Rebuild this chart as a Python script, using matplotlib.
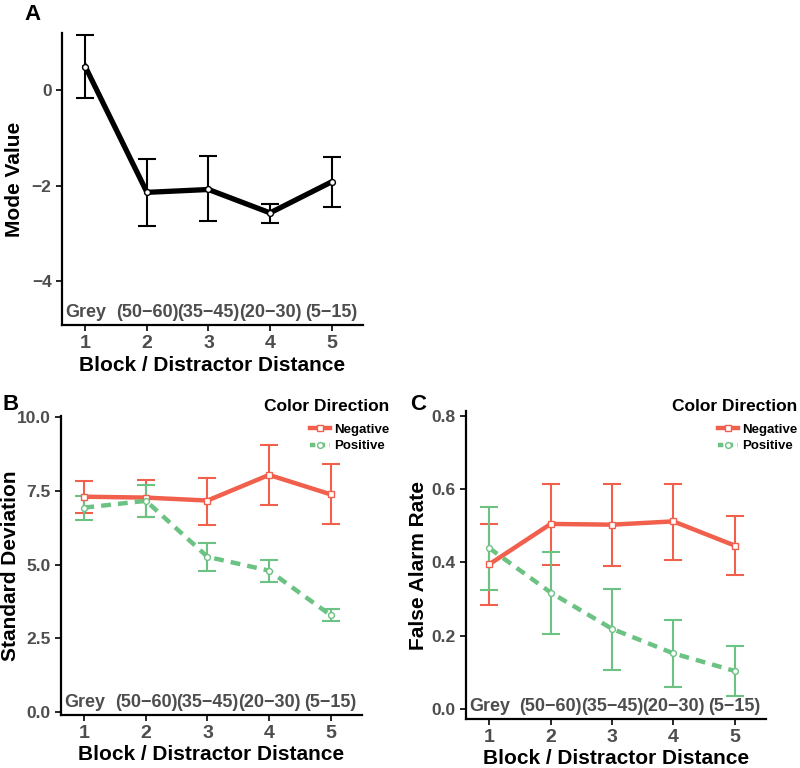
import numpy as np
import matplotlib.pyplot as plt
import matplotlib.ticker as ticker

plt.rcParams['font.family'] = ['Liberation Sans', 'DejaVu Sans']
plt.rcParams['font.weight'] = 'bold'

blocks = [1, 2, 3, 4, 5]
dist_labels = ['Grey', '(50\u221260)', '(35\u221245)', '(20\u221230)', '(5\u221215)']

# panel A: mode value
mode_mean = [0.49, -2.14, -2.08, -2.57, -1.92]
mode_lo = [-0.17, -2.84, -2.74, -2.78, -2.45]
mode_hi = [1.15, -1.45, -1.38, -2.38, -1.40]

# panel B: standard deviation
sd_neg = [7.31, 7.28, 7.18, 8.05, 7.39]
sd_neg_lo = [6.77, 6.63, 6.36, 7.02, 6.37]
sd_neg_hi = [7.86, 7.88, 7.96, 9.05, 8.42]
sd_pos = [6.94, 7.17, 5.27, 4.80, 3.29]
sd_pos_lo = [6.52, 6.61, 4.79, 4.43, 3.10]
sd_pos_hi = [7.35, 7.70, 5.73, 5.16, 3.49]

# panel C: false alarm rate
fa_neg = [0.395, 0.505, 0.503, 0.512, 0.446]
fa_neg_lo = [0.284, 0.392, 0.391, 0.408, 0.365]
fa_neg_hi = [0.504, 0.615, 0.614, 0.615, 0.526]
fa_pos = [0.439, 0.318, 0.219, 0.152, 0.104]
fa_pos_lo = [0.326, 0.204, 0.107, 0.060, 0.036]
fa_pos_hi = [0.550, 0.429, 0.328, 0.244, 0.172]

RED = '#F0604C'
GREEN = '#6CC283'
TICK_GREY = '#4D4D4D'

W, H = 800, 768
fig = plt.figure(figsize=(W / 100, H / 100), dpi=100)


def px_axes(left, top, right, bottom):
    return fig.add_axes([left / W, 1 - bottom / H, (right - left) / W, (bottom - top) / H])


def style_axes(ax, ylabel, ylab_x, xlab_y):
    for s in ['top', 'right']:
        ax.spines[s].set_visible(False)
    for s in ['left', 'bottom']:
        ax.spines[s].set_linewidth(1.6)
    ax.set_xlim(0.62, 5.51)
    ax.set_xticks(blocks)
    ax.tick_params(axis='both', labelsize=12.5, labelcolor=TICK_GREY, width=1.2, length=4)
    ax.tick_params(axis='x', labelsize=14)
    for lab in ax.get_xticklabels() + ax.get_yticklabels():
        lab.set_fontweight('bold')
    ax.set_xlabel('Block / Distractor Distance', fontsize=15, fontweight='bold')
    ax.set_ylabel(ylabel, fontsize=15, fontweight='bold')
    # place axis labels at pixel positions of the reference
    bb = ax.get_position()
    ax.yaxis.set_label_coords((ylab_x / W - bb.x0) / bb.width, 0.5)
    ax.xaxis.set_label_coords(0.5, ((1 - xlab_y / H) - bb.y0) / bb.height)
    ax.yaxis.label.set_va('center')
    ax.xaxis.label.set_va('center')
    # distance labels inside the axes, just above the x axis
    for b, lab in zip(blocks, dist_labels):
        ax.text(b, 0.012, lab, transform=ax.get_xaxis_transform(), ha='center', va='bottom',
                fontsize=13, fontweight='bold', color=TICK_GREY)


def err(ax, mean, lo, hi, color, ls, marker, lw=3.2):
    mean = np.array(mean)
    yerr = [mean - np.array(lo), np.array(hi) - mean]
    ax.errorbar(blocks, mean, yerr=yerr, fmt='none', ecolor=color, elinewidth=1.5,
                capsize=6.5, capthick=1.5, zorder=2)
    line, = ax.plot(blocks, mean, color=color, lw=lw, ls=ls, zorder=3)
    ax.plot(blocks, mean, ls='none', marker=marker, ms=4.2, mfc='white', mec=color,
            mew=1, zorder=4)
    return line


# ---- A
axA = px_axes(62, 33, 363, 325)
err(axA, mode_mean, mode_lo, mode_hi, 'black', '-', 'o', lw=3.8)
axA.set_ylim(-4.92, 1.2)
axA.yaxis.set_major_locator(ticker.FixedLocator([-4, -2, 0]))
axA.set_yticklabels(['\u22124', '\u22122', '0'])
style_axes(axA, 'Mode Value', 15, 365)
fig.text(24 / W, 1 - 14 / H, 'A', fontsize=16, fontweight='bold', ha='left', va='center')

# ---- B
axB = px_axes(61, 416, 362, 715)
err(axB, sd_neg, sd_neg_lo, sd_neg_hi, RED, '-', 's')
err(axB, sd_pos, sd_pos_lo, sd_pos_hi, GREEN, (0, (2.2, 1.6)), 'o')
axB.set_ylim(-0.1, 10.05)
axB.set_yticks([0, 2.5, 5, 7.5, 10])
axB.yaxis.set_major_formatter(ticker.FormatStrFormatter('%.1f'))
style_axes(axB, 'Standard Deviation', 11, 755)
fig.text(3 / W, 1 - 404 / H, 'B', fontsize=16, fontweight='bold', ha='left', va='center')

# ---- C
axC = px_axes(466, 411, 766, 719)
err(axC, fa_neg, fa_neg_lo, fa_neg_hi, RED, '-', 's')
err(axC, fa_pos, fa_pos_lo, fa_pos_hi, GREEN, (0, (2.2, 1.6)), 'o')
axC.set_ylim(-0.027, 0.813)
axC.set_yticks([0, 0.2, 0.4, 0.6, 0.8])
axC.yaxis.set_major_formatter(ticker.FormatStrFormatter('%.1f'))
style_axes(axC, 'False Alarm Rate', 419, 758)
fig.text(410 / W, 1 - 404 / H, 'C', fontsize=16, fontweight='bold', ha='left', va='center')

# legends
for xr in [389, 797]:
    h_neg = plt.Line2D([], [], color=RED, lw=3.2, marker='s', ms=4.2, mfc='white', mec=RED)
    h_pos = plt.Line2D([], [], color=GREEN, lw=3.2, ls=(0, (1.2, 1)), marker='o', ms=4.2,
                       mfc='white', mec=GREEN)
    leg = fig.legend([h_neg, h_pos], ['Negative', 'Positive'], title='Color Direction',
                     loc='upper right', bbox_to_anchor=(xr / W, 1 - 399 / H), frameon=False,
                     prop={'size': 9.5, 'weight': 'bold'}, handlelength=1.5,
                     handletextpad=0.3, labelspacing=0.3, borderpad=0, borderaxespad=0)
    leg.get_title().set_fontsize(12.5)
    leg.get_title().set_fontweight('bold')
    leg._legend_box.align = 'right'
    leg._legend_box.sep = 7

fig.savefig('out.png', dpi=100)
